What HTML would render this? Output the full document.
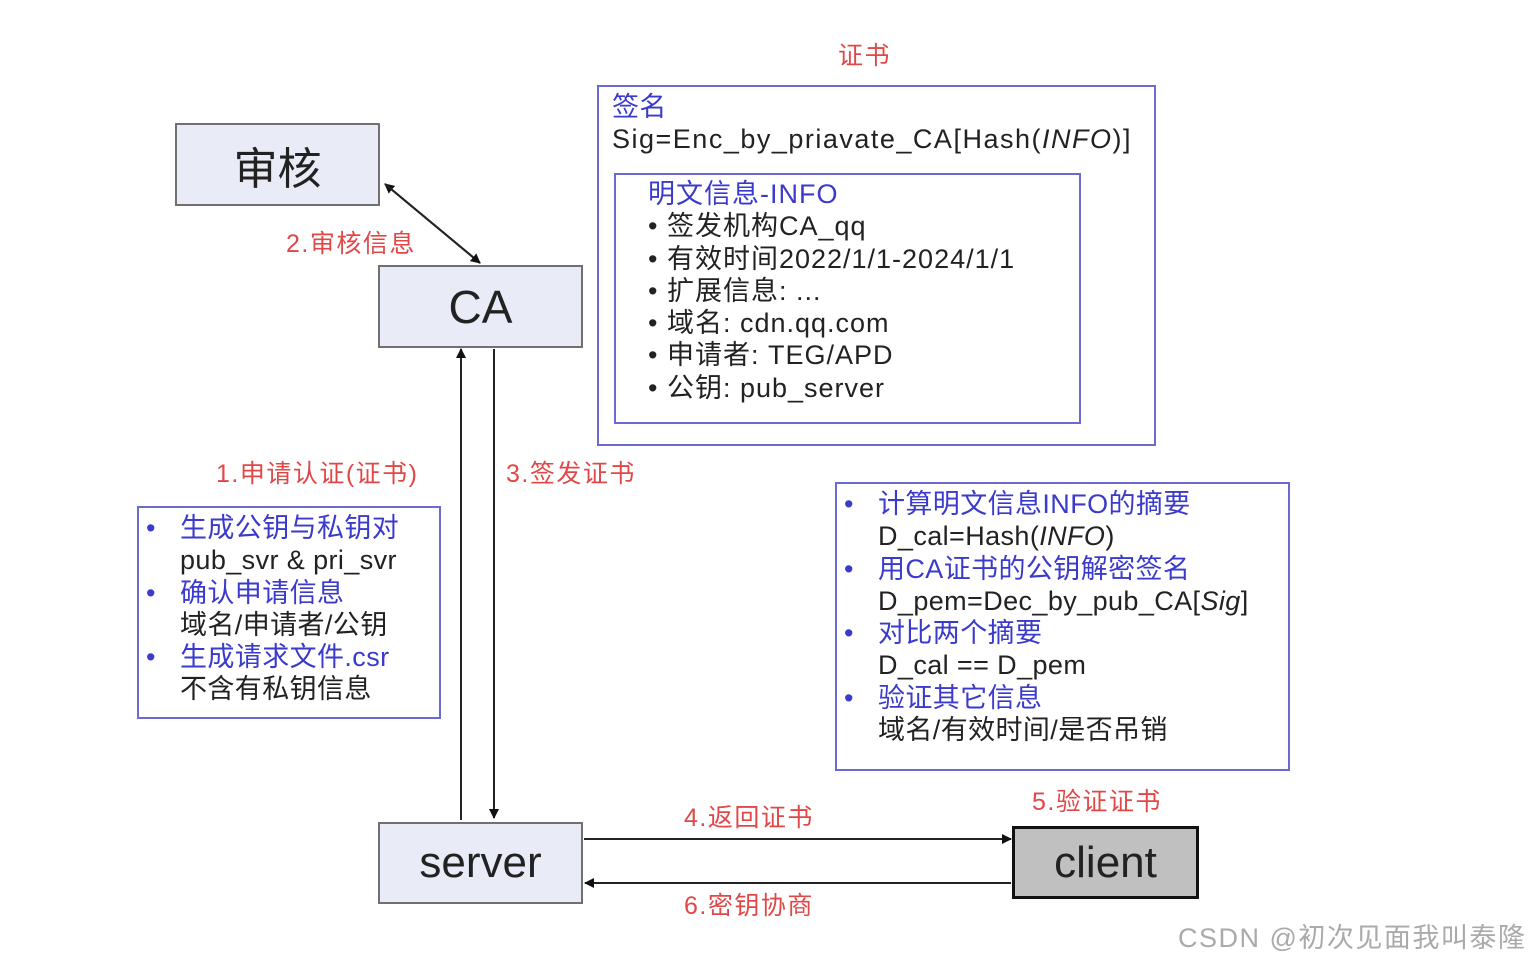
<!DOCTYPE html>
<html><head><meta charset="utf-8"><style>
body{margin:0;width:1531px;height:958px;background:#fff;position:relative;overflow:hidden;font-family:"Liberation Sans","Noto Sans CJK SC",sans-serif;}
.a{position:absolute;white-space:nowrap;}
.box{position:absolute;box-sizing:border-box;background:#e9ecf7;border:2px solid #707070;display:flex;align-items:center;justify-content:center;color:#222;}
.bl{position:absolute;box-sizing:border-box;border:2px solid #6a6ad0;}
.t{font-size:27px;color:#222;line-height:32.3px;letter-spacing:0.4px;}
.b{color:#3a3acc;}
.r{color:#e04848;font-size:25px;letter-spacing:1.5px;}
.i{display:inline-block;width:34px;}
</style></head><body>
<div class="box" style="left:175px;top:123px;width:205px;height:83px;font-size:44px;">审核</div>
<div class="box" style="left:378px;top:265px;width:205px;height:83px;font-size:46px;">CA</div>
<div class="box" style="left:378px;top:822px;width:205px;height:82px;font-size:44px;">server</div>
<div class="box" style="left:1012px;top:826px;width:187px;height:73px;font-size:44px;background:#c0c0c0;border:3px solid #111;">client</div>

<div class="a r" style="left:838px;top:36px;">证书</div>
<div class="bl" style="left:597px;top:85px;width:559px;height:361px;"></div>
<div class="bl" style="left:614px;top:173px;width:467px;height:251px;"></div>
<div class="a t b" style="left:612px;top:91px;">签名</div>
<div class="a t" style="left:612px;top:123px;letter-spacing:1.5px;">Sig=Enc_by_priavate_CA[Hash(<i>INFO</i>)]</div>
<div class="a t" style="left:648px;top:178px;letter-spacing:1px;"><span class="b">明文信息-INFO</span><br>• 签发机构CA_qq<br>• 有效时间2022/1/1-2024/1/1<br>• 扩展信息: ...<br>• 域名: cdn.qq.com<br>• 申请者: TEG/APD<br>• 公钥: pub_server</div>

<div class="bl" style="left:137px;top:506px;width:304px;height:213px;"></div>
<div class="a t" style="left:146px;top:512px;"><span class="b"><span class="i">•</span>生成公钥与私钥对</span><br><span class="i"></span>pub_svr &amp; pri_svr<br><span class="b"><span class="i">•</span>确认申请信息</span><br><span class="i"></span>域名/申请者/公钥<br><span class="b"><span class="i">•</span>生成请求文件.csr</span><br><span class="i"></span>不含有私钥信息</div>

<div class="bl" style="left:835px;top:482px;width:455px;height:289px;"></div>
<div class="a t" style="left:844px;top:488px;"><span class="b"><span class="i">•</span>计算明文信息INFO的摘要</span><br><span class="i"></span>D_cal=Hash(<i>INFO</i>)<br><span class="b"><span class="i">•</span>用CA证书的公钥解密签名</span><br><span class="i"></span>D_pem=Dec_by_pub_CA[<i>Sig</i>]<br><span class="b"><span class="i">•</span>对比两个摘要</span><br><span class="i"></span>D_cal == D_pem<br><span class="b"><span class="i">•</span>验证其它信息</span><br><span class="i"></span>域名/有效时间/是否吊销</div>

<div class="a r" style="left:286px;top:224px;">2.审核信息</div>
<div class="a r" style="left:216px;top:454px;">1.申请认证(证书)</div>
<div class="a r" style="left:506px;top:454px;">3.签发证书</div>
<div class="a r" style="left:684px;top:798px;">4.返回证书</div>
<div class="a r" style="left:1032px;top:782px;">5.验证证书</div>
<div class="a r" style="left:684px;top:886px;">6.密钥协商</div>
<div class="a" style="left:1178px;top:916px;font-size:27px;letter-spacing:1.5px;color:#aaa;">CSDN @初次见面我叫泰隆</div>

<svg class="a" style="left:0;top:0" width="1531" height="958">
<defs><marker id="m" markerWidth="10" markerHeight="10" refX="9" refY="5" orient="auto" markerUnits="userSpaceOnUse"><path d="M0,0 L10,5 L0,10 z" fill="#111"/></marker></defs>
<g stroke="#222" stroke-width="2" fill="none">
<line x1="480" y1="263" x2="385" y2="184" marker-end="url(#m)"/>
<line x1="385" y1="184" x2="480" y2="263" marker-end="url(#m)"/>
<line x1="461" y1="820" x2="461" y2="349" marker-end="url(#m)"/>
<line x1="494" y1="349" x2="494" y2="818" marker-end="url(#m)"/>
<line x1="584" y1="839" x2="1011" y2="839" marker-end="url(#m)"/>
<line x1="1011" y1="883" x2="585" y2="883" marker-end="url(#m)"/>
</g></svg>
</body></html>
